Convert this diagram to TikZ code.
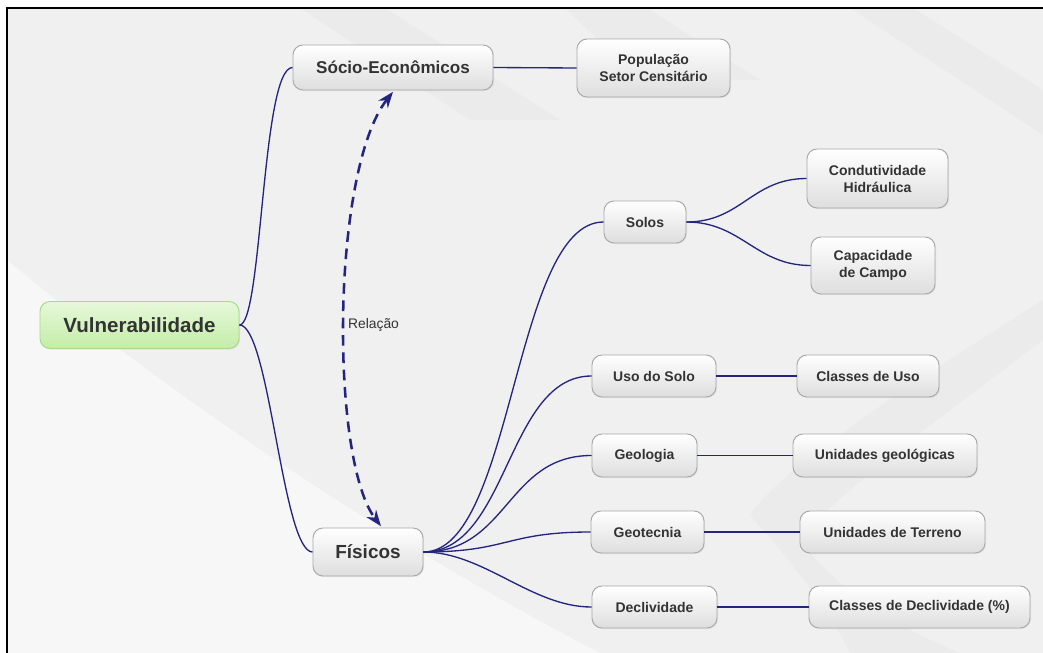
\documentclass[tikz,border=0pt]{standalone}
\usepackage{fontspec}
\setmainfont{Liberation Sans}
\usetikzlibrary{arrows.meta,shadows,calc}
\definecolor{bgbase}{HTML}{F0F0F0}
\definecolor{bglight}{HTML}{F7F7F7}
\definecolor{bgdark}{HTML}{E6E6E6}
\definecolor{navy}{HTML}{25257F}
\definecolor{txt}{HTML}{333333}
\definecolor{boxborder}{HTML}{A8A8A8}
\definecolor{greentop}{HTML}{E6F8DA}
\definecolor{greenbot}{HTML}{C4EDA8}
\definecolor{greenborder}{HTML}{A6DA8C}
\tikzset{
  mmbox/.style={draw=boxborder, line width=0.7pt, rounded corners=7.5pt,
    top color=white, bottom color=black!13, inner sep=0pt, align=center,
    text=txt, font=\bfseries\fontsize{10.5}{12.75}\selectfont,
    drop shadow={opacity=0.12, shadow xshift=0.8pt, shadow yshift=-0.8pt}},
  bigbox/.style={mmbox, font=\bfseries\fontsize{13}{15}\selectfont},
  rootbox/.style={mmbox, draw=greenborder, top color=greentop, bottom color=greenbot,
    font=\bfseries\fontsize{15.4}{18}\selectfont},
  link/.style={draw=navy, line width=1pt},
  relarrow/.style={draw=navy, line width=1.9pt, dash pattern=on 8pt off 5pt,
    {Stealth[length=12pt,width=9pt]}-{Stealth[length=12pt,width=9pt]}}
}
\begin{document}
\begin{tikzpicture}[x=0.75pt,y=-0.75pt]
\useasboundingbox (0,0) rectangle (1043,653);
% background
\fill[white] (0,0) rectangle (1043,653);
\fill[bgbase] (7,8) rectangle (1043,653);
\fill[bglight] (7,260) .. controls (200,420) and (420,560) .. (600,653) -- (7,653) -- cycle;
\fill[bgdark, opacity=0.45] (300,8) -- (385,8) -- (560,120) -- (470,120) -- cycle;
\fill[bgdark, opacity=0.45] (565,8) -- (647,8) -- (760,80) -- (640,80) -- cycle;
\fill[bgdark, opacity=0.45] (850,8) -- (913,8) -- (1043,90) -- (1043,135) -- cycle;
\fill[bgdark, opacity=0.45] (1043,300) .. controls (900,390) and (780,470) .. (750,515)
  .. controls (790,560) and (830,610) .. (850,653) -- (1043,653) -- cycle;
\fill[bgbase] (1043,340) .. controls (930,425) and (830,500) .. (800,540)
  .. controls (830,580) and (880,620) .. (960,653) -- (1043,653) -- cycle;
\draw[line width=1.7pt] (7.2,653) -- (7.2,7.8) -- (1043,7.8);

% nodes
\node[rootbox, minimum width=149.25pt, minimum height=35.25pt] (V) at (139.5,325) {Vulnerabilidade};
\node[bigbox, minimum width=150pt, minimum height=33.75pt, font=\bfseries\fontsize{12.8}{15}\selectfont] (S) at (393,67.5) {Sócio-Econômicos};
\node[bigbox, minimum width=82.5pt, minimum height=36pt, font=\bfseries\fontsize{14.2}{16}\selectfont] (F) at (368,552) {Físicos};
\node[mmbox, minimum width=114.75pt, minimum height=43.5pt] (P) at (653.5,68) {População\\Setor Censitário};
\node[mmbox, minimum width=61.5pt, minimum height=31.5pt] (So) at (645,222) {Solos};
\node[mmbox, minimum width=105.75pt, minimum height=44.25pt] (Co) at (877.5,178.5) {Condutividade\\Hidráulica};
\node[mmbox, minimum width=93pt, minimum height=42.75pt] (Ca) at (873,265.5) {Capacidade\\de Campo};
\node[mmbox, minimum width=93pt, minimum height=31.5pt] (U) at (654,376) {Uso do Solo};
\node[mmbox, minimum width=106.5pt, minimum height=31.5pt] (CU) at (868,376) {Classes de Uso};
\node[mmbox, minimum width=78.75pt, minimum height=32.25pt] (G) at (644.5,455.5) {Geologia};
\node[mmbox, minimum width=138pt, minimum height=32.25pt] (UG) at (885,455.5) {Unidades geológicas};
\node[mmbox, minimum width=84.75pt, minimum height=31.5pt] (Gt) at (647.5,532) {Geotecnia};
\node[mmbox, minimum width=138.75pt, minimum height=31.5pt] (UT) at (892.5,532) {Unidades de Terreno};
\node[mmbox, minimum width=93.75pt, minimum height=31.5pt] (D) at (654.5,607) {Declividade};
\node[mmbox, minimum width=165.75pt, minimum height=31.5pt] (CD) at (919.5,607) {Classes de Declividade (\%)};
\node[text=txt, font=\fontsize{10.4}{12}\selectfont] (R) at (373.5,325) {Relação};

% connectors
\draw[link] (V.east) .. controls +(23,0) and +(-31,0) .. (S.west);
\draw[link] (V.east) .. controls +(30,0) and +(-30,0) .. (F.west);
\draw[link] (S.east) -- (P.west);
\draw[link] (F.east) .. controls +(90,0) and +(-90,0) .. (So.west);
\draw[link] (F.east) .. controls +(85,0) and +(-85,0) .. (U.west);
\draw[link] (F.east) .. controls +(85,0) and +(-85,0) .. (G.west);
\draw[link] (F.east) .. controls +(85,0) and +(-85,0) .. (Gt.west);
\draw[link] (F.east) .. controls +(60,0) and +(-60,0) .. (D.west);
\draw[link] (So.east) .. controls +(55,0) and +(-55,0) .. (Co.west);
\draw[link] (So.east) .. controls +(55,0) and +(-55,0) .. (Ca.west);
\draw[link] (U.east) -- (CU.west);
\draw[link] (G.east) -- (UG.west);
\draw[link] (Gt.east) -- (UT.west);
\draw[link] (D.east) -- (CD.west);
\draw[relarrow] ([yshift=-1pt]S.south) .. controls +(-62,79) and +(-51,-67) .. ([xshift=9.75pt,yshift=1pt]F.north);
\end{tikzpicture}
\end{document}
